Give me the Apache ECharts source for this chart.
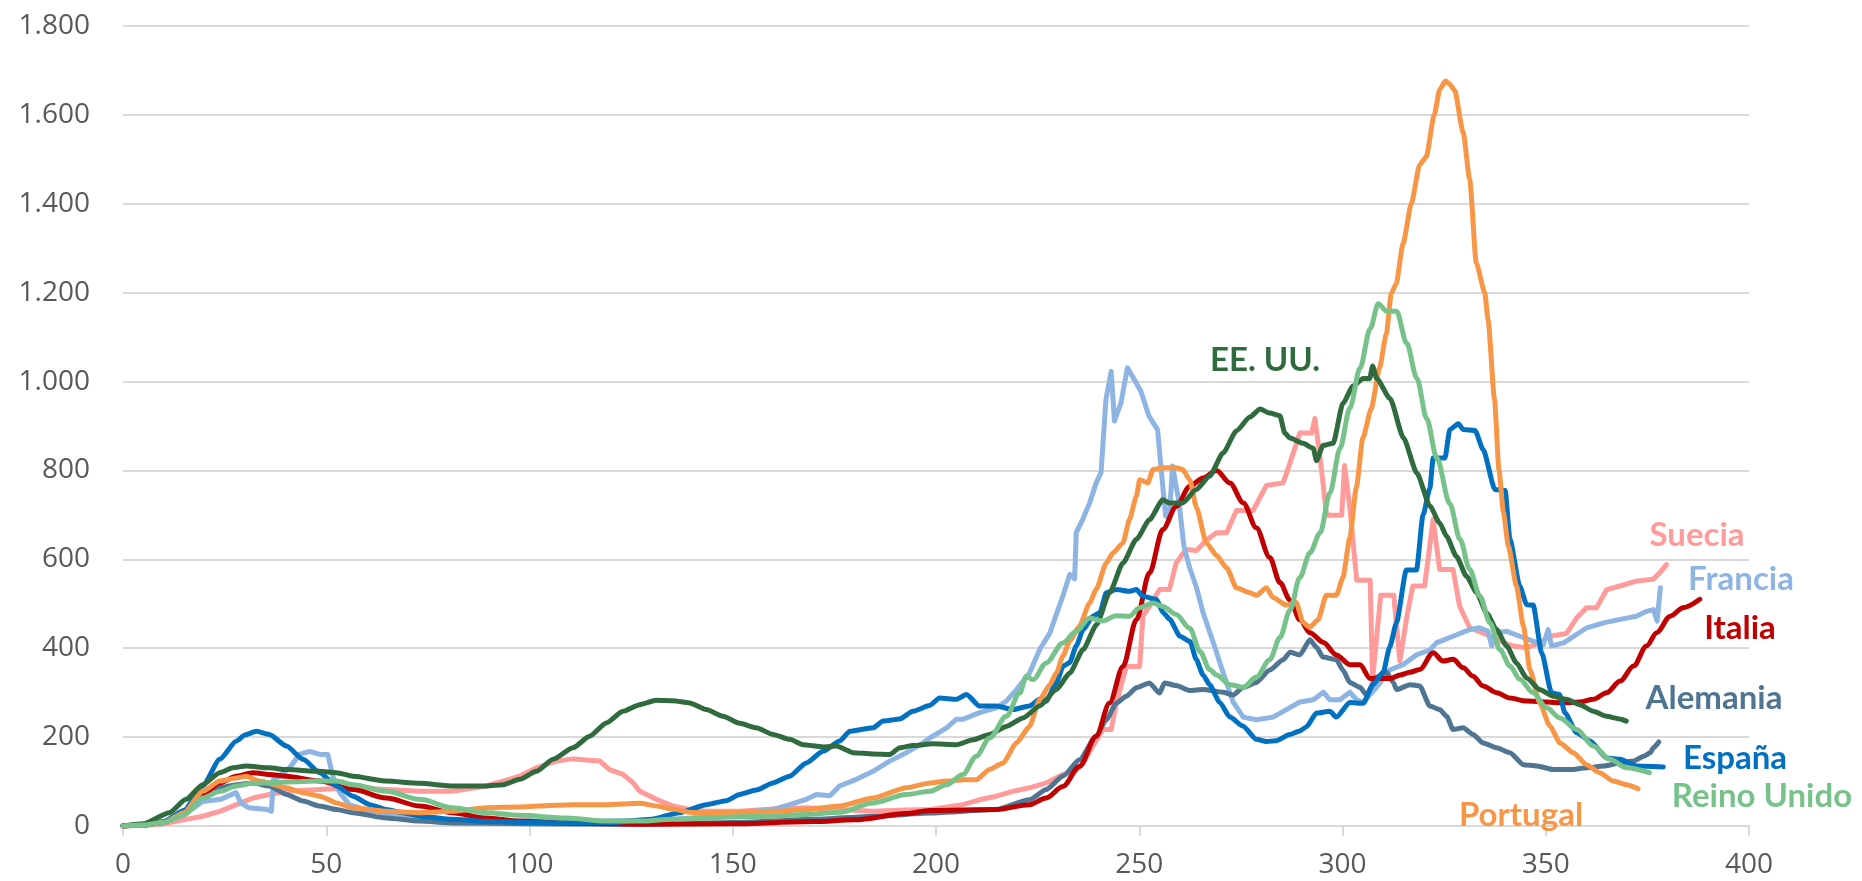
<!DOCTYPE html>
<html>
<head>
<meta charset="utf-8">
<script src="https://cdn.jsdelivr.net/npm/echarts@6/dist/echarts.min.js"></script>
<style>
  html, body { margin: 0; padding: 0; background: #fff; }
  #chart { width: 1862px; height: 881px; }
</style>
</head>
<body>
<div id="chart"></div>
<script>
// día, casos
const suecia = [[0,0],[5,1],[10,5],[15.5,15],[19.6,22],[23.8,33],[27.9,48],[32,63],[36,71],[40.2,78],[48.4,82],[56.6,86],[64.8,82],[73,78],[81,78],[89.4,90],[93.5,101],[97.6,112],[101.7,131],[106.6,146],[110.7,151],[114.8,148],[117.3,146],[119.7,127],[123,116],[125.5,97],[127.1,78],[131.2,60],[135.3,45],[139.4,37],[143.5,33],[151.7,33],[159.9,38],[168.1,41],[176.3,37],[184.5,33],[192.7,36],[198.5,37],[206.6,48],[210.7,59],[214.8,67],[218.9,78],[223,86],[227.1,97],[231.2,116],[233.7,119],[236.2,142],[238.6,180],[241.1,217],[243.1,217],[244.4,277],[246.8,359],[250.1,359],[250.9,472],[252.5,494],[255,532],[257.4,532],[259.1,592],[261.5,622],[264.1,620],[266.5,643],[269,660],[271.5,660],[273.9,710],[278,710],[281.3,766],[285.4,772],[287.1,817],[289.5,884],[292.4,884],[293.2,917],[294.5,828],[296.1,699],[299.8,699],[300.5,811],[301.8,716],[303.5,553],[306.8,553],[307.4,330],[309.4,519],[312.6,519],[314.1,371],[316,480],[317.3,540],[320.2,540],[322.3,690],[323.9,577],[327.2,577],[328.8,495],[331.3,446],[335.4,431],[338.7,416],[342,405],[345.3,401],[348.5,412],[351,427],[355.1,433],[357.6,468],[360,491],[362.5,491],[365,532],[368.2,540],[372.3,551],[376.4,555],[378.1,570],[379.7,588]];

const francia = [[0,0],[5,2],[10,8],[15,25],[19.6,55],[24,60],[27.8,75],[29,52],[31,41],[35.5,37],[36.5,33],[37,105],[38.5,112],[41,131],[43.4,161],[45.9,168],[48.4,161],[50.4,161],[51.6,112],[53.3,75],[55.7,48],[58.2,41],[60.7,26],[62.3,33],[64.8,26],[73,15],[81,11],[85,15],[89,8],[100,11],[120,11],[135,15],[143.5,20],[151.7,30],[159.9,37],[164,48],[168.1,60],[170.6,71],[173.9,68],[176.3,90],[180.4,105],[184.5,123],[188.6,146],[192.7,165],[196.8,187],[198.5,198],[202.6,221],[205,240],[206.6,240],[210.7,255],[214.8,266],[217.3,281],[219.8,307],[223,344],[225.5,397],[228,434],[229.6,476],[231.2,517],[232.9,566],[234.1,556],[234.5,660],[236.1,690],[237.8,727],[239.4,772],[240.6,795],[241.8,959],[243.1,1023],[243.9,911],[245.5,952],[247.1,1031],[248.8,1004],[250.4,978],[252.4,922],[254.5,892],[255.7,772],[256.5,697],[257.4,697],[258.2,810],[259.8,727],[261,629],[262.4,581],[264.1,536],[265.7,480],[268.2,413],[270.6,346],[273.1,279],[275.6,245],[278.8,239],[282.9,245],[286.2,262],[289.5,279],[292.8,284],[295.3,301],[296.9,284],[299.4,284],[301.8,301],[303.5,284],[305.1,279],[308.4,312],[311.6,351],[314.9,363],[318.2,385],[321.5,396],[323.1,412],[327.2,427],[331.3,442],[333.8,446],[335.8,438],[336.7,405],[337.5,435],[340.4,438],[343.6,427],[346.9,416],[349.4,408],[350.6,442],[351.4,405],[354.4,412],[356.9,427],[360.1,446],[364.2,457],[368.3,465],[372.3,472],[374.8,483],[376.5,487],[377.4,461],[378.2,536]];

const italia = [[0,0],[5,2],[10,8],[15,30],[19.6,70],[23.8,97],[27.9,112],[32,120],[36,116],[40.2,112],[48.4,101],[56.6,82],[64.8,63],[73,45],[81,30],[89.4,18],[97.6,11],[110,6],[130,4],[150,5],[170,10],[180,14],[192.7,28],[198.5,35],[214.8,37],[223,48],[227.1,63],[231.2,89],[235.3,134],[239.4,202],[242.7,277],[246,359],[249.3,464],[252.5,569],[255.8,667],[259.1,719],[262.4,764],[265.7,783],[269,800],[272.3,772],[275.6,727],[278.8,671],[282.1,604],[284.6,548],[287.1,508],[289.5,464],[292,435],[295.3,413],[298.5,385],[301.8,363],[304.3,363],[306.8,332],[311.7,332],[314.2,340],[316.6,346],[319,352],[322.3,390],[324.7,371],[327.2,375],[329.7,356],[332.1,337],[334.6,315],[337.9,300],[341.2,288],[345.3,281],[350.2,279],[354.3,277],[358.4,279],[361.7,285],[365,300],[368.3,326],[371.6,360],[374.8,405],[377.3,435],[380.6,472],[383.8,491],[387.9,510]];

const alemania = [[0,0],[5,2],[10,8],[15,30],[19.6,75],[23.8,86],[27.9,93],[32,97],[36,90],[40.2,71],[44.3,56],[48.4,45],[52.5,37],[56.6,30],[64.8,18],[73,11],[81,7],[100,5],[125,4],[150,8],[170,15],[185,22],[198.5,29],[214.8,37],[223,59],[227.1,82],[231.2,112],[235.3,149],[239.4,202],[241.9,239],[244.4,277],[246.8,292],[249.3,311],[252.5,322],[255,299],[256.2,322],[259.1,316],[262.4,305],[265.7,307],[270.6,301],[273.1,295],[275.6,312],[278.8,323],[282.1,351],[285.4,374],[287.1,391],[289.5,385],[292,419],[293.6,402],[295.2,380],[298.5,374],[300.1,351],[301.8,323],[304.3,312],[305.9,295],[308.4,335],[310.8,346],[312.5,323],[313.3,307],[316.6,318],[319,315],[321.5,270],[323.9,262],[325.6,247],[327.2,217],[329.7,221],[332.1,206],[334.6,187],[337.9,176],[341.2,165],[344.5,138],[347.8,135],[351.9,127],[356,127],[360.1,131],[364.2,135],[368.3,142],[371.6,146],[374.1,157],[375.7,165],[376.5,176],[377.8,189]];

const espana = [[0,0],[5,2],[10,10],[15,35],[19.6,90],[23.8,150],[27.9,191],[30,205],[32.8,213],[36,206],[40.2,180],[44.3,150],[48.4,120],[52.5,90],[56.6,67],[60.7,48],[64.8,37],[68.9,30],[73,22],[81,15],[90,10],[100,8],[110,7],[120,8],[130,15],[136.9,30],[143.5,48],[148.4,57],[151.7,71],[155.8,81],[159.9,97],[164,112],[168.1,142],[172.2,168],[176.3,191],[178.8,213],[184.5,221],[187,236],[191.1,241],[194.3,258],[198.4,271],[200.9,288],[205,285],[207.5,296],[210.7,270],[214.8,270],[218.9,262],[223,270],[225.5,285],[227.1,281],[229.6,322],[231.3,360],[232.9,368],[234.5,405],[236.2,442],[238.6,472],[240.3,480],[241.9,525],[244.4,532],[247.7,528],[249.3,532],[250.9,517],[254.2,510],[255.9,480],[257.5,465],[260,427],[262.5,415],[264,375],[265.7,340],[267.3,318],[269.8,278],[272.3,245],[275.5,225],[278.8,195],[281.3,190],[283.7,192],[287,206],[289.5,214],[291.1,223],[293.6,254],[296.9,258],[298.5,245],[301.8,278],[305.1,276],[307.5,318],[310,346],[311.6,402],[313.3,458],[315.7,576],[318.2,576],[319.8,699],[321.5,760],[322.3,828],[325.2,828],[326.4,892],[328.5,905],[329.7,892],[332.6,890],[334.6,847],[337.5,757],[340,755],[341.2,645],[343.6,540],[345.3,498],[346.9,497],[349,390],[351.4,300],[353.4,296],[354.7,255],[357.6,210],[360.9,191],[365,153],[368.3,150],[372.3,135],[378.9,133]];

const portugal = [[0,0],[5,2],[10,8],[15,30],[19.6,78],[23.8,101],[27.9,108],[30.3,112],[33.6,101],[40.2,86],[44.3,75],[48.4,67],[52.5,52],[56.6,41],[64.8,33],[73,30],[81,33],[89.4,41],[97.6,43],[102.5,45],[110.7,48],[118.9,48],[127.1,51],[131.2,45],[135.3,38],[139.4,31],[143.5,30],[151.7,31],[159.9,33],[168.1,37],[176.3,45],[184.5,63],[192.7,86],[198.5,97],[202.6,101],[206.6,104],[209.9,104],[213.2,127],[216.5,142],[219.8,187],[223,224],[225.5,284],[228,318],[229.6,344],[231.2,382],[232.9,416],[235.3,450],[237.8,502],[239.4,532],[241.9,592],[243.5,614],[246,637],[247.6,690],[249.3,742],[250.1,779],[252.1,772],[253.4,802],[255.8,806],[259.1,806],[260.7,802],[262.4,779],[264.1,716],[266.5,637],[269,609],[271.5,581],[273.9,536],[277.2,525],[278.8,519],[281.3,536],[282.9,514],[286.2,497],[288.6,503],[290.3,458],[291.9,447],[294,464],[296,519],[298.5,519],[300.1,559],[301.8,648],[303.4,761],[305,873],[307.1,940],[309.1,1030],[310.8,1108],[312,1198],[313.2,1220],[314.9,1310],[316.9,1399],[319,1488],[320.6,1506],[322.6,1601],[323.9,1657],[325.3,1676],[326.4,1669],[327.6,1655],[329.7,1560],[331.3,1455],[332.9,1267],[335,1200],[335.8,1140],[337.4,960],[338.5,800],[339.6,705],[340.8,630],[342.8,540],[344.5,450],[346.1,352],[348.5,277],[351,225],[353.5,187],[356.8,165],[360,138],[363.3,120],[366.6,101],[369.9,93],[372.7,84]];

const eeuu = [[0,0],[5,5],[11.4,30],[15.5,60],[19.6,93],[23.8,120],[27,131],[30.3,135],[36,131],[40.2,127],[48.4,123],[52.5,120],[56.6,112],[64.8,101],[73,96],[81.2,90],[89.4,90],[93.5,93],[97.6,105],[101.7,123],[105.8,150],[110.7,176],[114.8,202],[118.9,232],[123,258],[127.1,273],[131.2,283],[135.3,282],[139.4,277],[143.5,262],[147.6,247],[151.7,231],[155.8,221],[159.9,206],[164,195],[167.3,183],[172.2,178],[175.5,180],[179.6,165],[184.5,162],[188.6,161],[191.1,176],[194.3,181],[199.2,185],[205,183],[209.1,194],[213.2,206],[217.3,224],[221.4,243],[225.5,270],[229.6,307],[232.9,344],[236.2,397],[239.5,453],[242.7,525],[246,592],[249.3,645],[252.5,689],[255.8,734],[257.4,727],[260.7,727],[264,757],[267.3,787],[270.6,839],[273.9,889],[277.2,920],[279.7,938],[282.1,929],[284.6,923],[285.8,884],[287.1,873],[290.3,861],[292.8,850],[293.6,822],[295.2,856],[297.7,861],[300.1,951],[302.6,990],[305.1,1007],[306.7,1007],[307.4,1035],[308.4,1007],[311.7,962],[315,873],[318.3,794],[321.5,720],[323.9,682],[325.6,652],[328,607],[330.5,562],[333,525],[335.4,480],[337.9,442],[340.4,405],[342.8,367],[345.3,333],[348.5,307],[351.8,292],[355.1,285],[358.4,273],[361.7,258],[364.9,247],[368.2,241],[369.8,236]];

const reinoUnido = [[0,0],[5,2],[10,8],[15,25],[19.6,63],[23.8,78],[27.9,90],[32,96],[40.2,99],[48.4,101],[52.5,101],[56.6,93],[64.8,78],[73,60],[81,41],[89.4,30],[97.6,24],[109,18],[118.9,11],[127,11],[135.3,15],[143.5,18],[151.7,21],[159.9,22],[168.1,26],[176.3,31],[184.5,52],[192.7,71],[198.5,78],[202.6,93],[206.6,116],[209.9,157],[213.2,198],[217.3,247],[220.6,299],[222.2,337],[223.9,329],[227.1,367],[231.2,412],[234.5,438],[237.8,468],[241,461],[244.3,473],[247.6,472],[250.1,491],[253.4,502],[255.8,494],[259.1,476],[262.4,445],[265,392],[267.3,352],[269,340],[272.3,318],[275.6,312],[278.8,335],[282.1,374],[284.6,424],[287.1,486],[289.5,559],[292,615],[294.5,660],[296.9,749],[299.4,850],[301.8,940],[304.3,1030],[306.8,1119],[308.8,1175],[310.9,1158],[313.3,1158],[315.8,1086],[318.3,1007],[320.7,917],[323.2,828],[326.4,725],[328.9,645],[331.3,577],[333.8,517],[336.3,457],[338.7,397],[341.2,360],[343.6,330],[346.9,300],[350.2,266],[353.5,243],[357.6,217],[361.7,180],[365.8,150],[369.8,131],[375.5,120]];

const xTicks = { min: 0, max: 400, step: 50 };
const yTicks = { min: 0, max: 1800, step: 200 };

// nombre, datos, color, suavizado
const paises = [
  { name: 'Suecia', data: suecia, color: '#ff9b9b', smooth: false },
  { name: 'Francia', data: francia, color: '#8db4e2', smooth: false },
  { name: 'Alemania', data: alemania, color: '#4f7592', smooth: 0.2 },
  { name: 'Italia', data: italia, color: '#c00000', smooth: 0.3 },
  { name: 'España', data: espana, color: '#0070c0', smooth: 0.2 },
  { name: 'Portugal', data: portugal, color: '#f79646', smooth: 0.2 },
  { name: 'EE. UU.', data: eeuu, color: '#2f6b3e', smooth: 0.2 },
  { name: 'Reino Unido', data: reinoUnido, color: '#77c18a', smooth: 0.3 }
];

// etiquetas de texto junto a las líneas (posición en píxeles)
const etiquetas = [
  { text: 'EE. UU.', x: 1265, y: 360, color: '#2f6b3e' },
  { text: 'Suecia', x: 1697, y: 535, color: '#ff9b9b' },
  { text: 'Francia', x: 1741, y: 579, color: '#8db4e2' },
  { text: 'Italia', x: 1740, y: 628, color: '#c00000' },
  { text: 'Alemania', x: 1714, y: 698, color: '#4f7592' },
  { text: 'España', x: 1735, y: 758, color: '#0070c0' },
  { text: 'Reino Unido', x: 1762, y: 796, color: '#77c18a' },
  { text: 'Portugal', x: 1521, y: 815, color: '#f79646' }
];

const gridColor = '#d9d9d9';
const labelColor = '#595959';
const axisFont = '"Open Sans", sans-serif';
const tagFont = 'Lato, "Open Sans", sans-serif';

function miles(v) {
  return String(v).replace(/\B(?=(\d{3})+(?!\d))/g, '.');
}

const chart = echarts.init(document.getElementById('chart'), null, { renderer: 'canvas' });

chart.setOption({
  animation: false,
  backgroundColor: '#ffffff',
  grid: { left: 123, right: 113, top: 26, bottom: 55 },
  xAxis: {
    type: 'value',
    min: xTicks.min,
    max: xTicks.max,
    interval: xTicks.step,
    axisLine: { show: true, lineStyle: { color: gridColor, width: 2 } },
    axisTick: { show: true, length: 10, lineStyle: { color: gridColor, width: 2 } },
    splitLine: { show: false },
    axisLabel: { color: labelColor, fontSize: 28, fontFamily: axisFont, margin: 25 }
  },
  yAxis: {
    type: 'value',
    min: yTicks.min,
    max: yTicks.max,
    interval: yTicks.step,
    axisLine: { show: false },
    axisTick: { show: false },
    splitLine: { lineStyle: { color: gridColor, width: 2 } },
    axisLabel: { color: labelColor, fontSize: 28, fontFamily: axisFont, margin: 33, formatter: miles }
  },
  series: paises.map(p => ({
    name: p.name,
    type: 'line',
    data: p.data,
    showSymbol: false,
    smooth: p.smooth,
    smoothMonotone: 'x',
    lineStyle: { color: p.color, width: 5, cap: 'round', join: 'round' },
    itemStyle: { color: p.color },
    emphasis: { disabled: true }
  })),
  graphic: etiquetas.map(e => ({
    type: 'text',
    x: e.x,
    y: e.y,
    z: 100,
    style: {
      text: e.text,
      fill: e.color,
      font: 'bold 33px ' + tagFont,
      textAlign: 'center',
      textVerticalAlign: 'middle'
    }
  }))
});
</script>
</body>
</html>
